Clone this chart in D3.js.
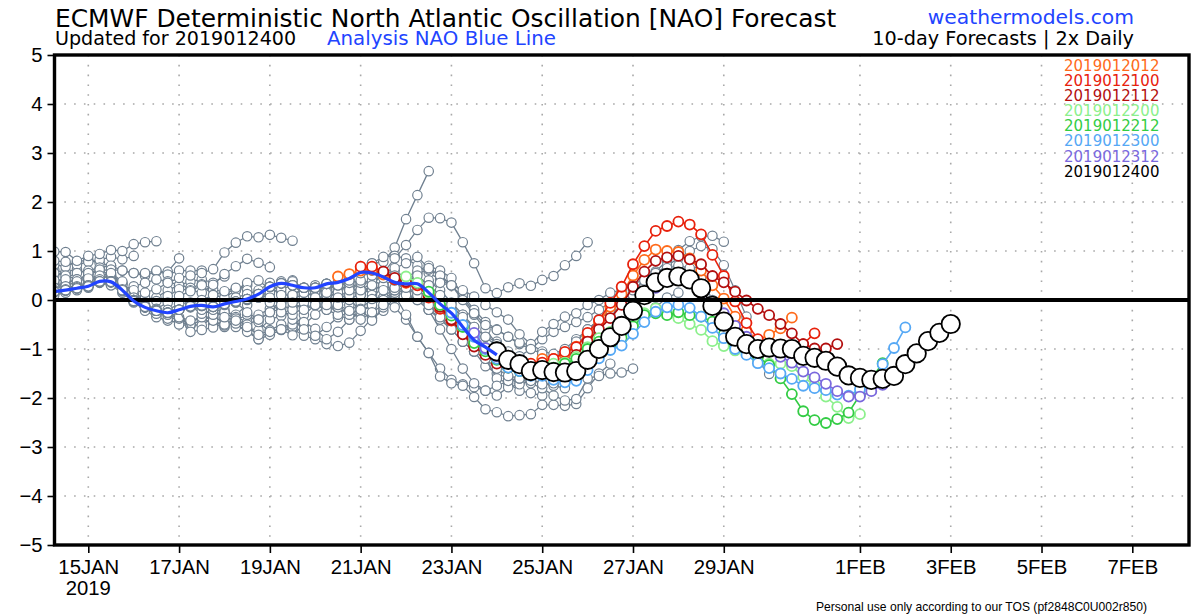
<!DOCTYPE html>
<html><head><meta charset="utf-8"><script src="https://cdn.jsdelivr.net/npm/d3@7"></script>
<style>html,body{margin:0;padding:0;background:#fff}svg{display:block}</style></head><body>
<script>
const yTicks=[-5,-4,-3,-2,-1,0,1,2,3,4,5];
const tickDays=[[0,15,"15JAN"],[0,17,"17JAN"],[0,19,"19JAN"],[0,21,"21JAN"],[0,23,"23JAN"],[0,25,"25JAN"],[0,27,"27JAN"],[0,29,"29JAN"],[1,1,"1FEB"],[1,3,"3FEB"],[1,5,"5FEB"],[1,7,"7FEB"]];
// i = number of 6-hour steps after 15 Jan 2019 00Z
const firstVisible=-3;
const analysisStart=-3;
const analysis=[.17,.2,.24,.28,.38,.37,.2,-.02,-.15,-.22,-.26,-.2,-.13,-.11,-.14,-.08,-.03,.02,.12,.27,.34,.3,.25,.25,.33,.36,.44,.56,.55,.47,.36,.33,.33,.15,-.08,-.27,-.55,-.82,-.96,-1.12];
const grayStarts=[-42,-40,-38,-36,-34,-32,-30,-28,-26,-24,-22,-20,-18,-16,-14,-12,-10,-8,-6,-4,-2,0,2,4,6,8,10,12,14,16,18,20];
const grayValues=[
[.62,.55],
[.5,.58,.62,.55],
[.72,.68,.78,.82,.75,.7],
[.8,.78,.72,.78,.82,.88,.83,.9],
[.99,.98,.8,.9,.94,1.02,1.0,1.14,1.18,1.2],
[.35,.45,.55,.6,.66,.7,.6,.55,.5,.58,.58,.85],
[.55,.5,.42,.52,.6,.62,.6,.55,.55,.6,.52,.6,.6,.6],
[.3,.35,.42,.5,.38,.3,.22,.28,.35,.42,.38,.3,.38,.42,.35,.48],
[.15,.2,.25,.4,.45,.52,.35,.1,.02,.05,.2,.3,.25,.32,.22,.15,.2,.3],
[.28,.3,.25,.35,.42,.5,.32,.12,.05,-.02,.08,.22,.2,.15,.31,.53,.69,.84,.76,.67],
[.4,.42,.35,.55,.62,.5,.3,.2,.15,.22,.35,.45,.5,.55,.63,.97,1.17,1.3,1.28,1.33,1.27,1.21],
[.25,.28,.38,.44,.5,.55,.38,.05,-.1,-.18,-.05,.08,.18,.3,.1,.05,.2,.35,.4,.22,.38,.4,.18,.05],
[.1,.15,.2,.25,.35,.3,.15,-.05,-.18,-.3,-.2,-.08,-.05,0,.1,.18,.25,.2,.1,.15,.32,.38,.25,.15,.22,.3],
[.18,.2,.28,.3,.42,.38,.2,-.03,-.22,-.35,-.42,-.2,-.15,-.08,-.22,-.1,.05,.12,.2,.35,.15,.05,.1,-.05,.1,.2,.25,.35],
[.2,.22,.26,.3,.38,.36,.18,0,-.14,-.28,-.3,-.45,-.5,-.3,-.18,-.25,-.3,-.1,.05,.15,.22,.3,.12,-.08,-.2,-.1,.02,.12,.22,.3],
[.17,.2,.25,.3,.36,.36,.2,0,-.12,-.2,-.38,-.5,-.52,-.4,-.35,-.2,-.35,-.45,-.3,-.18,-.05,.1,.22,.15,-.05,-.3,-.4,-.2,-.12,.05,.25,.4],
[.17,.2,.24,.28,.36,.37,.22,0,-.12,-.22,-.3,-.38,-.5,-.52,-.35,-.25,-.4,-.5,-.4,-.25,-.05,.1,.25,.3,.2,.32,.5,.62,.75,.78,1.07,1.65,2.14,2.63],
[.16,.2,.24,.28,.37,.38,.2,-.02,-.14,-.22,-.25,-.35,-.42,-.35,-.5,-.55,-.45,-.58,-.62,-.4,-.32,-.15,.05,.18,.3,.25,.4,.6,.75,.88,.9,.85,.7,.55,.42,.3],
[.17,.2,.24,.28,.37,.37,.2,0,-.15,-.22,-.26,-.2,-.65,-.61,-.56,-.4,-.55,-.61,-.8,-.71,-.61,-.59,-.73,-.8,-.9,-.94,-.87,-.63,-.37,-.22,.05,.3,.55,.62,.5,.3,.05,-.25],
[.17,.2,.24,.28,.37,.37,.2,-.02,-.15,-.22,-.26,-.2,-.12,-.28,-.42,-.52,-.48,-.65,-.8,-.62,-.5,-.55,-.3,-.1,.1,.22,.3,.1,.35,.5,.6,.45,.35,.4,.2,-.05,-.3,-.55,-.75,-.85],
[.2,.24,.28,.37,.37,.2,-.02,-.14,-.22,-.26,-.2,-.13,-.2,-.3,-.5,-.38,-.55,-.71,-.62,-.6,-.72,-.5,-.3,-.1,.05,.2,.22,.2,.3,.42,.15,0,-.2,-.35,-.5,-.7,-1.05,-1.35,-1.5,-1.6,-1.7],
[.28,.38,.37,.2,0,-.14,-.22,-.26,-.2,-.13,-.12,-.2,-.35,-.42,-.3,-.45,-.65,-.6,-.5,-.45,-.59,-.8,-.65,-.4,-.25,-.1,.05,.15,.1,0,-.2,-.4,-.6,-.85,-1.05,-1.2,-1.6,-1.7,-1.85,-1.9,-1.95],
[.37,.2,-.02,-.15,-.22,-.26,-.2,-.14,-.12,-.13,-.1,-.05,-.25,-.4,-.25,-.18,-.4,-.6,-.73,-.55,-.35,-.25,-.05,.1,0,-.15,-.4,-.75,-1.08,-1.4,-1.63,-1.72,-1.78,-1.85,-1.95,-1.78,-1.72,-1.65,-1.7,-1.75,-1.8],
[-.02,-.14,-.22,-.26,-.2,-.12,-.1,-.14,-.08,-.05,0,.05,-.05,-.25,-.3,-.15,-.1,-.2,-.3,-.1,.1,.3,.55,.85,1.12,1.43,1.68,1.67,1.58,1.18,.75,.24,.14,.26,.34,.29,.41,.49,.71,.9,1.18],
[-.22,-.26,-.2,-.13,-.11,-.14,-.08,-.03,.02,.1,.05,-.1,-.2,-.05,.05,-.1,-.15,-.3,-.18,.02,.3,.1,-.3,-.75,-1.08,-1.56,-1.7,-1.75,-1.98,-2.23,-2.29,-2.37,-2.35,-2.33,-2.14,-2.14,-2.16,-2.12,-1.8,-1.5,-1.3],
[-.2,-.13,-.11,-.14,-.08,-.03,.02,.12,.27,.1,-.05,-.2,-.1,.08,.15,0,-.2,-.42,-.15,.15,.3,.1,-.2,-.6,-1.0,-1.4,-1.7,-1.85,-1.75,-1.65,-1.6,-1.7,-1.8,-1.95,-2.05,-2.02,-1.6,-1.55,-1.5,-1.48,-1.4],
[-.11,-.14,-.08,-.03,.02,.12,.27,.34,.3,.15,.25,.1,-.1,-.22,-.4,-.25,-.1,.2,.45,.6,.7,.6,.45,.1,-.2,-.45,-.6,-.75,-.9,-1.0,-.8,-.65,-.55,-.45,-.35,-.2,-.05,0,.15,.22,.3],
[-.08,-.03,.02,.12,.27,.34,.3,.25,.25,.15,.05,.1,.2,.35,.55,.65,.75,.88,.65,.5,.3,0,-.3,-.6,-.9,-1.2,-1.45,-1.6,-1.72,-1.7,-1.55,-1.45,-1.3,-1.1,-.9,-.7,-.5,-.3,-.15,.05,.15],
[.02,.12,.27,.34,.3,.25,.25,.33,.3,.2,.35,.4,.3,.2,.25,.1,-.1,-.35,-.6,-.85,-1.05,-1.2,-1.4,-1.55,-1.6,-1.65,-1.5,-1.35,-1.2,-1.0,-.8,-.55,-.3,-.1,.1,.25,.35,.45,.5,.62,.7],
[.27,.34,.3,.25,.25,.33,.3,.35,.4,.3,.2,.25,.35,.2,.05,-.1,-.2,-.3,-.27,-.51,-.61,-.75,-.87,-.92,-.65,-.49,-.34,-.27,-.1,0,.15,.2,.3,.45,.58,.8,1.02,1.2,1.3,1.31,1.19],
[.3,.25,.25,.33,.36,.42,.55,.5,.45,.4,.35,.3,.3,.35,.3,.2,.07,-.1,-.25,-.4,-.7,-.9,-1.05,-1.1,-1.0,-.8,-.6,-.4,-.2,-.05,.1,.3,.55,.7,.85,1.0,1.1,1.04,.71,.2,-.34],
[.25,.33,.3,.4,.55,.6,.55,.5,.45,.5,.3,.1,-.1,-.35,-.55,-.75,-.95,-1.05,-1.15,-1.0,-1.1,-1.2,-1.1,-.85,-.6,-.4,-.2,0,.2,.4,.55,.65,.7,.65,.45,0,-.4,-.7,-1.0,-1.25,-1.51]
];
const runNames=["2019012012","2019012100","2019012112","2019012200","2019012212","2019012300","2019012312","2019012400"];
const runColors=["#ff6a1a","#e8210c","#b30f0f","#8cf08c","#33cc44","#55a8f5","#7a68dd","#000000"];
const runStarts=[22,24,26,28,30,32,34,36];
const runValues=[
[.48,.53,.6,.62,.52,.42,.35,.33,.12,-.12,-.35,-.62,-.9,-1.05,-1.2,-1.3,-1.35,-1.33,-1.2,-1.2,-1.1,-.95,-.72,-.45,-.14,.12,.5,.82,1.03,1.0,.98,.85,.6,.3,.03,-.34,-.62,-.82,-.71,-.58,-.36],
[.68,.68,.58,.42,.36,.3,.05,-.18,-.42,-.68,-.92,-1.1,-1.22,-1.32,-1.38,-1.3,-1.28,-1.2,-1.06,-.96,-.67,-.41,-.06,.27,.73,1.1,1.41,1.51,1.6,1.54,1.34,.92,.49,-.03,-.47,-.8,-1.0,-1.0,-.98,-.9,-.68],
[.58,.45,.38,.34,.1,-.14,-.4,-.7,-.95,-1.12,-1.3,-1.38,-1.42,-1.45,-1.5,-1.42,-1.3,-1.12,-.85,-.6,-.37,-.1,.27,.58,.8,.87,.9,.83,.73,.49,.36,.17,-.01,-.18,-.31,-.49,-.68,-.9,-.99,-.99,-.9],
[.48,.35,.15,-.1,-.3,-.55,-.82,-.98,-1.15,-1.3,-1.4,-1.42,-1.38,-1.3,-1.28,-1.16,-.96,-.78,-.65,-.55,-.49,-.27,-.17,-.27,-.37,-.49,-.61,-.84,-.94,-1.03,-1.1,-1.2,-1.3,-1.3,-1.35,-1.57,-1.74,-1.97,-2.18,-2.41,-2.33],
[.17,-.1,-.32,-.55,-.88,-1.05,-1.22,-1.38,-1.45,-1.5,-1.45,-1.38,-1.3,-1.2,-1.0,-.85,-.95,-.78,-.54,-.31,-.27,-.31,-.25,-.31,-.34,-.44,-.7,-.95,-1.03,-1.16,-1.33,-1.6,-1.92,-2.27,-2.45,-2.51,-2.43,-2.3,-1.94,-1.6,-1.29],
[-.26,-.51,-.75,-1.0,-1.2,-1.38,-1.45,-1.55,-1.55,-1.63,-1.68,-1.65,-1.43,-1.19,-1.02,-.93,-.69,-.45,-.24,-.15,-.1,-.16,-.34,-.57,-.78,-1,-1.12,-1.29,-1.39,-1.5,-1.61,-1.75,-1.8,-1.84,-1.93,-1.95,-1.82,-1.7,-1.31,-.98,-.56],
[-.67,-.98,-1.15,-1.3,-1.38,-1.45,-1.48,-1.52,-1.5,-1.42,-1.2,-1.0,-.78,-.55,-.25,.08,.25,.42,.5,.42,.22,-.12,-.27,-.53,-.75,-.95,-1.05,-1.16,-1.28,-1.46,-1.58,-1.71,-1.86,-1.97,-1.97,-1.86,-1.73,-1.55,-1.3,-1.05,-.8],
[-1.05,-1.22,-1.31,-1.45,-1.43,-1.47,-1.48,-1.45,-1.22,-1,-.76,-.53,-.22,.1,.36,.45,.48,.42,.24,-.12,-.44,-.75,-.9,-1,-.97,-.99,-1,-1.14,-1.18,-1.24,-1.36,-1.54,-1.59,-1.63,-1.61,-1.55,-1.31,-1.09,-.84,-.67,-.49]
];
const W=1200,H=616,L=54.5,R=1189,T=55,B=545;
const day0=Date.UTC(2019,0,15);
const toDate=i=>new Date(day0+i*6*3600e3);
const x=d3.scaleUtc().domain([new Date(day0),new Date(Date.UTC(2019,1,7))]).range([88.3,1132.3]);
const y=d3.scaleLinear().domain([-5,5]).range([B,T]);
const tickDates=tickDays.map(d=>new Date(Date.UTC(2019,d[0],d[1])));
const tickText=new Map(tickDates.map((d,k)=>[+d,tickDays[k][2]]));
const svg=d3.select("body").append("svg").attr("width",W).attr("height",H).attr("viewBox",`0 0 ${W} ${H}`);
svg.append("defs").append("clipPath").attr("id","plot").append("rect").attr("x",L).attr("y",T).attr("width",R-L).attr("height",B-T);
const SANS="'DejaVu Sans'",TICK="'Liberation Sans'";
function label(txt,px,py,size,fill,anchor,fam){return svg.append("text").attr("x",px).attr("y",py).attr("font-family",fam||SANS).attr("font-size",size).attr("fill",fill||"#000").attr("text-anchor",anchor||"start").text(txt);}
// grid
const grid=svg.append("g").attr("stroke","#a8a8a8").attr("stroke-width",1.6).attr("stroke-dasharray","1.6,8.2");
grid.selectAll(".v").data(tickDates).join("line").attr("x1",d=>x(d)).attr("x2",d=>x(d)).attr("y1",T).attr("y2",B);
grid.selectAll(".h").data(yTicks).join("line").attr("x1",L).attr("x2",R).attr("y1",d=>y(d)).attr("y2",d=>y(d));
// runs
const plot=svg.append("g").attr("clip-path","url(#plot)");
const line=d3.line().x(d=>x(toDate(d.i))).y(d=>y(d.v));
function drawRun(start,vals,color,r,sw,lw){
  const pts=vals.map((v,k)=>({i:start+k,v}));
  const g=plot.append("g");
  g.append("path").attr("d",line(pts)).attr("fill","none").attr("stroke",color).attr("stroke-width",lw);
  g.selectAll("circle").data(pts).join("circle").attr("cx",d=>x(toDate(d.i))).attr("cy",d=>y(d.v)).attr("r",r).attr("fill","#fff").attr("stroke",color).attr("stroke-width",sw);
}
grayValues.forEach((vals,k)=>drawRun(Math.max(grayStarts[k],firstVisible),vals,"#708090",4.7,1.2,1.3));
runValues.forEach((vals,k)=>{ if(k<7) drawRun(runStarts[k],vals,runColors[k],5,1.8,1.6); else drawRun(runStarts[k],vals,runColors[k],9.2,1.8,1.8); });
// zero line
svg.append("line").attr("x1",L).attr("x2",R).attr("y1",y(0)).attr("y2",y(0)).attr("stroke","#000").attr("stroke-width",4);
// analysis
svg.append("path").attr("clip-path","url(#plot)").attr("d",d3.line().curve(d3.curveCatmullRom).x((d,k)=>x(toDate(analysisStart+k))).y(d=>y(d))(analysis)).attr("fill","none").attr("stroke","#2244ff").attr("stroke-width",3.2);
// frame & axes
svg.append("rect").attr("x",L).attr("y",T).attr("width",R-L).attr("height",B-T).attr("fill","none").attr("stroke","#000").attr("stroke-width",3.4);
const ax=svg.append("g").attr("transform",`translate(0,${B})`).call(d3.axisBottom(x).tickValues(tickDates).tickSize(8).tickPadding(7).tickFormat(d=>tickText.get(+d)));
ax.select(".domain").remove();
ax.selectAll("text").attr("font-family",TICK).attr("font-size",20.3).attr("fill","#000");
ax.selectAll("line").attr("stroke","#000").attr("stroke-width",1.6);
const ay=svg.append("g").attr("transform",`translate(${L},0)`).call(d3.axisLeft(y).tickValues(yTicks).tickSize(7).tickPadding(5).tickFormat(d3.format("d")));
ay.select(".domain").remove();
ay.selectAll("text").attr("font-family",TICK).attr("font-size",20.3).attr("fill","#000");
ay.selectAll("line").attr("stroke","#000").attr("stroke-width",1.6);
label("2019",x(tickDates[0]),595,20.3,"#000","middle",TICK);
// header text
label("ECMWF Deterministic North Atlantic Oscillation [NAO] Forecast",55,27,24.9);
label("Updated for 2019012400",55,45,19.1);
label("Analysis NAO Blue Line",327,45,19.8,"#2244ff");
label("weathermodels.com",1134,24,20.3,"#2244ff","end");
label("10-day Forecasts | 2x Daily",1134,45,19.25,"#000","end");
const legendY=[70.5,85.5,100.5,116,131,146,162,177];
runNames.forEach((n,k)=>label(n,1064,legendY[k],15,runColors[k]));
label("Personal use only according to our TOS (pf2848C0U002r850)",816,611,12.1,"#000","start",TICK);
</script></body></html>
